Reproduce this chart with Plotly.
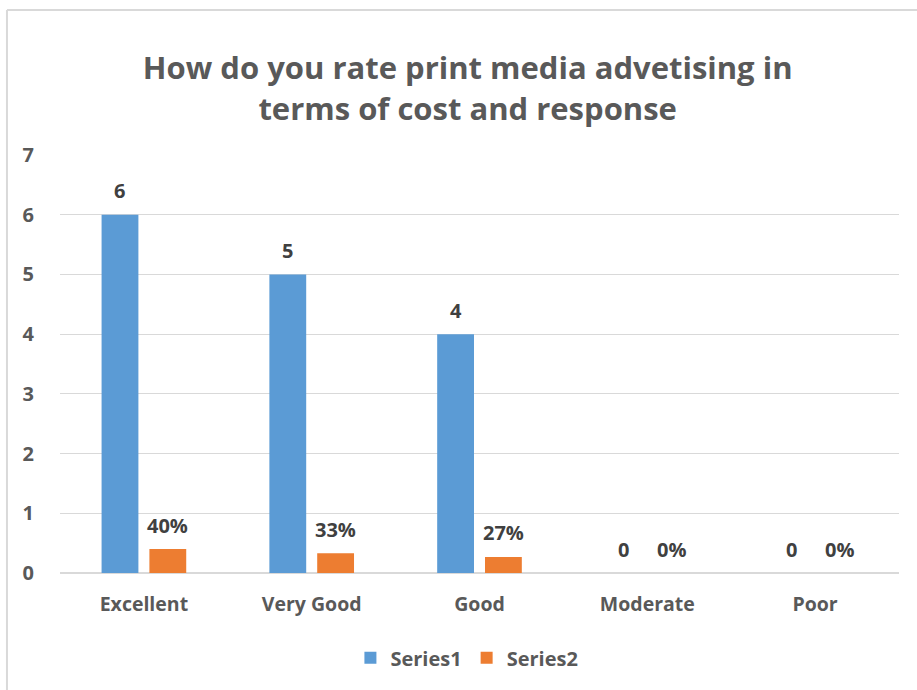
import plotly.graph_objects as go

categories = ["Excellent", "Very Good", "Good", "Moderate", "Poor"]
series1 = [6, 5, 4, 0, 0]
series2 = [0.40, 0.33, 0.27, 0, 0]
series1_labels = [f"{v:g}" for v in series1]
series2_labels = [f"{round(v * 100)}%" for v in series2]
y_ticks = [0, 1, 2, 3, 4, 5, 6, 7]

FONT = "Open Sans"
GREY = "#595959"
DARK = "#404040"
BLUE = "#5B9BD5"
ORANGE = "#ED7D31"

fig = go.Figure()
fig.add_trace(go.Bar(name="Series1", x=categories, y=series1, marker=dict(color=BLUE, line=dict(width=0))))
fig.add_trace(go.Bar(name="Series2", x=categories, y=series2, marker=dict(color=ORANGE, line=dict(width=0))))

annotations = []
for cat, v, t in zip(categories, series1, series1_labels):
    annotations.append(dict(x=cat, y=v, text=t, showarrow=False, xshift=-24, yshift=24,
                            font=dict(family=FONT, size=20, color=DARK, weight="bold")))
for cat, v, t in zip(categories, series2, series2_labels):
    annotations.append(dict(x=cat, y=v, text=t, showarrow=False, xshift=24, yshift=24,
                            font=dict(family=FONT, size=20, color=DARK, weight="bold")))

border = dict(color="#D9D9D9", width=2)
fig.update_layout(
    width=917, height=690, autosize=False,
    paper_bgcolor="white", plot_bgcolor="white",
    margin=dict(l=60, r=18, t=155, b=117),
    barmode="group", bargap=0.43, bargroupgap=0.23,
    title=dict(text="How do you rate print media advetising in<br>terms of cost and response",
               x=0.51, xref="container", xanchor="center",
               y=0.885, yref="container", yanchor="middle",
               font=dict(family=FONT, size=31, color=GREY, weight="bold")),
    font=dict(family=FONT, color=GREY, size=18),
    xaxis=dict(showgrid=False, showline=False, ticks="", ticklabelstandoff=17,
               tickfont=dict(family=FONT, size=19.5, color=GREY, weight="bold")),
    yaxis=dict(range=[0, 7], tickvals=y_ticks, showgrid=True, gridcolor="#D9D9D9", gridwidth=1,
               zeroline=True, zerolinecolor="#D9D9D9", zerolinewidth=2, showline=False, ticks="",
               ticklabelstandoff=25,
               tickfont=dict(family=FONT, size=20, color=GREY, weight="bold")),
    legend=dict(orientation="h", x=0.485, xanchor="center", y=-0.203, yanchor="middle",
                font=dict(family=FONT, size=20, color=GREY, weight="bold"),
                itemwidth=30, traceorder="normal"),
    annotations=annotations,
    shapes=[
        dict(type="line", xref="paper", yref="paper", x0=-0.0632, x1=-0.0632, y0=-0.6, y1=1.347,
             line=border, layer="below"),
        dict(type="line", xref="paper", yref="paper", x0=-0.0632, x1=1.3, y0=1.347, y1=1.347,
             line=border, layer="below"),
    ],
)

fig.write_html("out.html")
